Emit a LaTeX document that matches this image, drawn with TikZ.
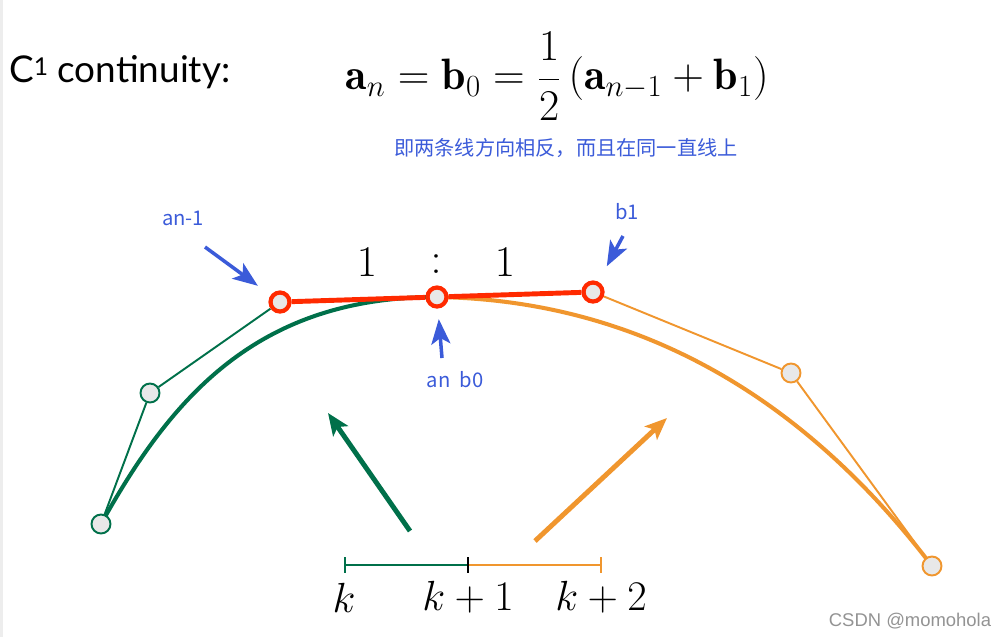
\documentclass[tikz,border=0pt]{standalone}
\usepackage{fix-cm}
\usepackage{fontspec}
\setsansfont{Lato}
\newfontfamily\cjkfont{Noto Sans CJK SC}
\newfontfamily\markfont{Liberation Sans}
\usepackage{xcolor}
\definecolor{splineGreen}{HTML}{00704A}
\definecolor{splineOrange}{HTML}{F0962E}
\definecolor{joinRed}{HTML}{FF2A00}
\definecolor{noteBlue}{HTML}{3B5BD9}
\definecolor{pointGray}{HTML}{E8E8E8}
\definecolor{edgeGray}{HTML}{EDEDED}
\usetikzlibrary{
    arrows.meta,
    positioning,
    backgrounds
}
\tikzset{
    % control points
    point/.style={
        circle,
        fill=pointGray,
        minimum size=0.38cm,
        inner sep=0pt,
        line width=1.1pt,
    },
    green point/.style={point, draw=splineGreen},
    orange point/.style={point, draw=splineOrange},
    red point/.style={point, draw=joinRed, line width=2.4pt, minimum size=0.38cm},
    % control polygons and curves
    hull/.style={line width=1.1pt},
    spline/.style={line width=2.3pt},
    join line/.style={draw=joinRed, line width=2.8pt},
    % direction arrows
    big arrow/.style={
        -{Stealth[length=4.4mm, width=3.6mm, inset=1mm]},
        line width=2.8pt,
    },
    % blue pointers
    pointer/.style={
        -{Stealth[length=5mm, width=3.8mm, inset=1.2mm]},
        draw=noteBlue,
        fill=noteBlue,
        line width=2pt,
    },
    pointer label/.style={
        font=\cjkfont\fontsize{11.5}{13}\selectfont,
        text=noteBlue,
    },
    % parameter axis
    knot/.style={line width=0.9pt},
    knot label/.style={font=\fontsize{24}{28}\selectfont},
}

\begin{document}
\begin{tikzpicture}[x=0.02cm, y=-0.02cm]
    \useasboundingbox (0,0) rectangle (1007,637);
    \fill[edgeGray] (0,0) rectangle (3,637);

    % heading
    \node[anchor=west, font=\sffamily\fontsize{21}{25}\selectfont] (title) at (3,72) {C{\fontsize{14}{16}\selectfont\raisebox{0.55ex}{1}} continuity:};
    \node[font=\fontsize{25}{30}\selectfont] (formula) at (557,76)
        {$\displaystyle \mathbf{a}_n = \mathbf{b}_0 = \frac{1}{2}\,(\mathbf{a}_{n-1}+\mathbf{b}_1)$};
    \node[font=\cjkfont\fontsize{11.5}{14}\selectfont, text=noteBlue] (note) at (566,148)
        {即两条线方向相反，而且在同一直线上};

    % control points
    \node[green point] (g0) at (101,524) {};
    \node[green point] (g1) at (150,393) {};
    \node[red point] (an1) at (280,302) {};
    \node[red point] (an) at (437,297) {};
    \node[red point] (b1) at (593,292) {};
    \node[orange point] (o2) at (791,373) {};
    \node[orange point] (o3) at (932,566) {};

    \begin{scope}[on background layer]
        \draw[hull, splineGreen] (g0) -- (g1) -- (an1);
        \draw[hull, splineOrange] (b1) -- (o2) -- (o3);
        \draw[spline, splineGreen] (g0.center) .. controls (170,400) and (255,297) .. (an.center);
        \draw[spline, splineOrange] (an.center) .. controls (620,300) and (790,380) .. (o3.center);
        \draw[join line] (an1) -- (an) -- (b1);
    \end{scope}

    % ratio
    \node[font=\fontsize{25}{30}\selectfont] (r1) at (367,262) {$1$};
    \node[font=\fontsize{25}{30}\selectfont] (rc) at (436,264) {$:$};
    \node[font=\fontsize{25}{30}\selectfont] (r2) at (505,262) {$1$};

    % pointers
    \node[pointer label] (lan1) at (183,218) {an-1};
    \node[pointer label] (lb1) at (627,212) {b1};
    \node[pointer label] (lan) at (455,380) {an\ \ b0};
    \coordinate (pan1) at (205,247);
    \coordinate (pb1) at (623,236);
    \coordinate (pan) at (442,358);
    \draw[pointer, shorten >=9pt] (pan1) -- (an1);
    \draw[pointer, shorten >=10pt] (pb1) -- (b1);
    \draw[pointer, shorten >=6pt] (pan) -- (an);

    % direction arrows
    \coordinate (gtail) at (410,531);
    \coordinate (ghead) at (328,413);
    \coordinate (otail) at (535,541);
    \coordinate (ohead) at (667,418);
    \draw[big arrow, splineGreen] (gtail) -- (ghead);
    \draw[big arrow, splineOrange] (otail) -- (ohead);

    % parameter axis
    \coordinate (t0) at (345,565);
    \coordinate (t1) at (468,565);
    \coordinate (t2) at (601,565);
    \draw[knot, splineGreen] (t0) -- (t1);
    \draw[knot, splineOrange] (t1) -- (t2);
    \draw[knot, splineGreen] (t0) ++(0,-8) -- ++(0,16);
    \draw[knot, black] (t1) ++(0,-8) -- ++(0,16);
    \draw[knot, splineOrange] (t2) ++(0,-8) -- ++(0,16);
    \node[knot label] (k0) at (344,598) {$k$};
    \node[knot label] (k1) at (468,597) {$k+1$};
    \node[knot label] (k2) at (601,597) {$k+2$};

    % watermark
    \node[font=\markfont\fontsize{10.5}{12}\selectfont, text=gray!85] (mark) at (910,621) {CSDN @momohola};
\end{tikzpicture}
\end{document}
